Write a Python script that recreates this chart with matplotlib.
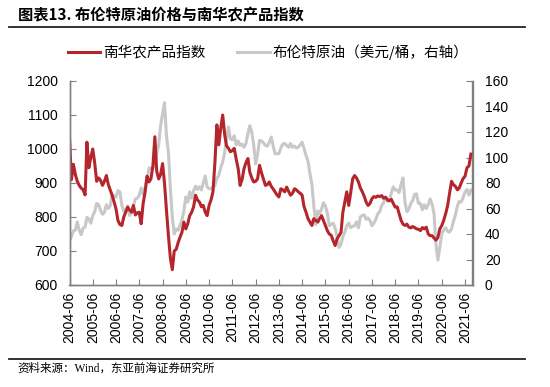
import matplotlib
matplotlib.use('Agg')
import matplotlib.pyplot as plt
from matplotlib.lines import Line2D
import matplotlib.dates as mdates
import pandas as pd

plt.rcParams['font.family'] = ['Liberation Sans', 'Noto Sans CJK SC']

# monthly readings, 2004-06 .. 2021-09
dates = pd.date_range('2004-06-01', '2021-09-01', freq='MS')

nanhua_agri = [
    1035, 910, 955, 925, 905, 893, 885,
    880, 865, 1020, 945, 975, 1000, 960, 905, 915, 908, 893, 905,
    922, 895, 880, 864, 845, 824, 790, 778, 775, 800, 815, 829,
    820, 814, 834, 806, 812, 814, 780, 840, 874, 920, 903, 912,
    950, 1036, 935, 912, 925, 957, 900, 820, 745, 680, 645, 700,
    705, 725, 740, 755, 785, 765, 780, 804, 814, 830, 864, 850,
    844, 830, 834, 815, 804, 834, 850, 874, 962, 1071, 1012, 1061,
    1100, 1042, 1010, 1002, 992, 995, 1002, 970, 942, 893, 910, 942,
    960, 972, 932, 915, 903, 905, 912, 952, 930, 912, 893, 895,
    903, 890, 883, 874, 865, 859, 883, 880, 874, 888, 875, 864,
    870, 883, 880, 874, 870, 864, 830, 814, 795, 785, 775, 795,
    790, 785, 795, 804, 790, 775, 760, 750, 746, 730, 716, 736,
    745, 755, 814, 844, 874, 834, 870, 912, 922, 915, 903, 885,
    874, 860, 844, 834, 840, 854, 860, 858, 862, 860, 863, 855,
    858, 850, 848, 852, 840, 829, 830, 810, 790, 779, 775, 779,
    770, 768, 772, 769, 765, 764, 760, 769, 765, 770, 750, 745,
    745, 738, 732, 740, 765, 775, 790, 810, 834, 870, 905, 895,
    890, 880, 885, 900, 913, 920, 945, 950, 985,
]

brent = [
    35, 38, 42.5, 43, 49.5, 43, 39.5,
    44.5, 45.5, 53, 52, 48.5, 54.5, 57.5, 64, 63, 58.5, 55.5, 57,
    63, 60, 62, 70.5, 70, 69, 74, 73, 62.5, 58, 59, 62,
    54.5, 58, 62, 67.5, 68, 70.5, 76, 71, 77, 82.5, 92, 91.5,
    92, 95, 103, 110, 125, 134, 143, 117, 104, 76, 53, 40,
    44, 43, 47, 51, 58, 69, 65, 73, 68, 74, 77.5, 75,
    77, 74.5, 80, 85.5, 77, 75.5, 75.5, 77, 78, 83.5, 86, 92,
    96.5, 104, 114.5, 124, 114.5, 114, 117, 110, 113, 109.5, 110.5, 108,
    111, 119, 125, 120, 110, 95, 102.5, 113.5, 113, 111.5, 109.5, 109,
    112, 116, 109.5, 103, 103, 103, 107.5, 110.5, 111, 109.5, 108, 111,
    108, 109, 107.5, 108, 110, 112, 107, 101.5, 97, 87.5, 79, 62,
    47.5, 58, 56, 59.5, 64.5, 62, 56.5, 46.5, 47.5, 48.5, 44.5, 38,
    29.5, 32, 38, 41.5, 46.5, 48.5, 45, 46, 46.5, 49.5, 45, 53.5,
    54.5, 55, 51.5, 52.5, 50.5, 46.5, 48.5, 51.5, 56, 57.5, 62.5, 64.5,
    69, 65.5, 66, 72, 77, 74.5, 74.5, 72.5, 79, 84, 65, 57.5,
    59.5, 64, 66, 71, 71.5, 64, 64, 59, 63, 60, 63, 67.5,
    63.5, 55.5, 32, 19.5, 29.5, 40.5, 43, 45, 42, 41.5, 44, 50,
    55, 62, 65.5, 65, 68.5, 73, 75, 70.5, 74.5,
]

tick_dates = pd.date_range('2004-06-01', '2021-06-01', freq='12MS')

RED = '#B5262C'
GREY = '#C8C8C8'
SPINE = '#808080'

fig = plt.figure(figsize=(5.5, 3.87), dpi=100)
ax = fig.add_axes([69.5 / 550, 1 - 285 / 387, 403 / 550, 204 / 387])
ax2 = ax.twinx()

ax2.plot(dates, brent, color=GREY, lw=2.2)
ax.plot(dates, nanhua_agri, color=RED, lw=2.2)
ax.set_zorder(ax2.get_zorder() + 1)
ax.patch.set_visible(False)

ax.set_ylim(600, 1200)
ax.set_yticks(range(600, 1201, 100))
ax2.set_ylim(0, 160)
ax2.set_yticks(range(0, 161, 20))
ax.set_xlim(pd.Timestamp('2004-06-01'), pd.Timestamp('2021-09-26'))
ax.set_xticks(tick_dates)
ax.xaxis.set_major_formatter(mdates.DateFormatter('%Y-%m'))

for a in (ax, ax2):
    a.spines['top'].set_visible(False)
    for s in ('left', 'right', 'bottom'):
        a.spines[s].set_color(SPINE)
        a.spines[s].set_linewidth(1.0)
ax.tick_params(axis='y', direction='in', length=4, color=SPINE, labelsize=10, pad=8.5)
ax2.tick_params(axis='y', direction='in', length=4, color=SPINE, labelsize=10, pad=9)
ax.tick_params(axis='x', direction='in', length=4, color=SPINE, labelsize=10, pad=5,
               labelrotation=90)

# title, rules, legend, source
fig.text(18 / 550, 1 - 15 / 387, '图表13. 布伦特原油价格与南华农产品指数',
         fontsize=11, fontweight='bold', va='center', ha='left',
         family=['Noto Sans CJK SC'])
fig.add_artist(Line2D([9 / 550, 525 / 550], [1 - 27 / 387] * 2, color='#222222', lw=1.3))
fig.add_artist(Line2D([9 / 550, 525 / 550], [1 - 359 / 387] * 2, color='#222222', lw=1.3))

handles = [Line2D([], [], color=RED, lw=2.2), Line2D([], [], color=GREY, lw=2.2)]
fig.legend(handles, ['南华农产品指数', '布伦特原油（美元/桶，右轴）'],
           loc='center left', bbox_to_anchor=(68 / 550, 1 - 52 / 387), ncol=2,
           frameon=False, borderpad=0, borderaxespad=0, handlelength=2.2,
           handletextpad=0.2, columnspacing=2.2,
           prop={'family': 'Noto Sans CJK SC', 'size': 10.5})

fig.text(17 / 550, 1 - 369 / 387, '资料来源：Wind，东亚前海证券研究所',
         fontsize=8.3, va='center', ha='left',
         family=['Liberation Serif', 'Noto Sans CJK SC'])

fig.savefig('out.png', dpi=100)
